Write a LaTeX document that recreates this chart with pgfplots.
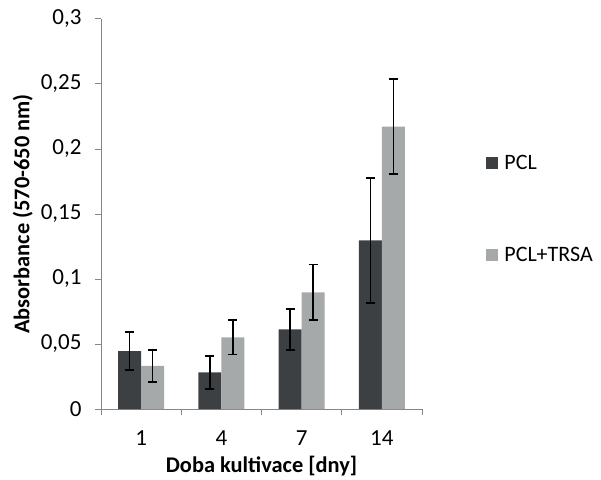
\documentclass[border=0pt]{standalone}
\usepackage{fontspec}
\setmainfont{Carlito}
\usepackage{pgfplots}
\pgfplotsset{compat=1.18}
\definecolor{darkbar}{HTML}{3D4043}
\definecolor{lightbar}{HTML}{A6A9AA}
\definecolor{axgray}{HTML}{868686}
\begin{document}
\begin{tikzpicture}[x=1pt,y=1pt]
\path[use as bounding box] (0,0) rectangle (601,479);
\begin{axis}[
  at={(101pt,70pt)}, anchor=south west,
  scale only axis, width=321pt, height=390pt,
  ybar=0pt, bar width=23pt,
  xmin=-0.5, xmax=3.5, ymin=0, ymax=0.3,
  axis lines=left, axis line style={axgray, line width=1pt, -},
  xtick={0,1,2,3}, xticklabels={1,4,7,14},
  major x tick style={draw=none},
  minor xtick={-0.5,0.5,1.5,2.5,3.5},
  minor x tick style={axgray, line width=1pt},
  minor tick length=6pt,
  ytick={0,0.05,0.1,0.15,0.2,0.25,0.3},
  y tick style={axgray, line width=1pt},
  major tick length=6pt,
  tick align=outside,
  /pgf/number format/use comma,
  /pgf/number format/fixed,
  /pgf/number format/precision=2,
  /pgf/number format/assume math mode=true,
  ticklabel style={font=\fontsize{23}{25}\selectfont},
  xticklabel style={yshift=-12pt},
  yticklabel style={xshift=-10pt},
  xlabel={\textbf{Doba kultivace [dny]}},
  ylabel={\textbf{Absorbance (570-650 nm)}},
  label style={font=\fontsize{22.4}{24}\selectfont},
  xlabel style={yshift=-4pt},
  ylabel style={yshift=1pt},
  legend style={at={(1.2,0.657)}, anchor=north west, draw=none, fill=none,
    font=\fontsize{22}{24}\selectfont, row sep=72pt, inner sep=0pt,
    legend cell align=left, nodes={inner xsep=6pt}},
  legend image code/.code={\fill[#1, draw=none] (0pt,-6pt) rectangle (12pt,6pt);},
  error bars/error bar style={black, line width=1.7pt},
  error bars/error mark options={rotate=90, mark size=4.5pt, line width=1.7pt, black},
]
\addplot[fill=darkbar, draw=none, error bars/.cd, y dir=both, y explicit]
  coordinates {(0,0.0446) +- (0,0.0145) (1,0.0282) +- (0,0.0128) (2,0.0613) +- (0,0.0158) (3,0.1297) +- (0,0.0482)};
\addlegendentry{PCL}
\addplot[fill=lightbar, draw=none, error bars/.cd, y dir=both, y explicit]
  coordinates {(0,0.0332) +- (0,0.0123) (1,0.0551) +- (0,0.0132) (2,0.0897) +- (0,0.0214) (3,0.2172) +- (0,0.0365)};
\addlegendentry{PCL+TRSA}
\end{axis}
\end{tikzpicture}
\end{document}
